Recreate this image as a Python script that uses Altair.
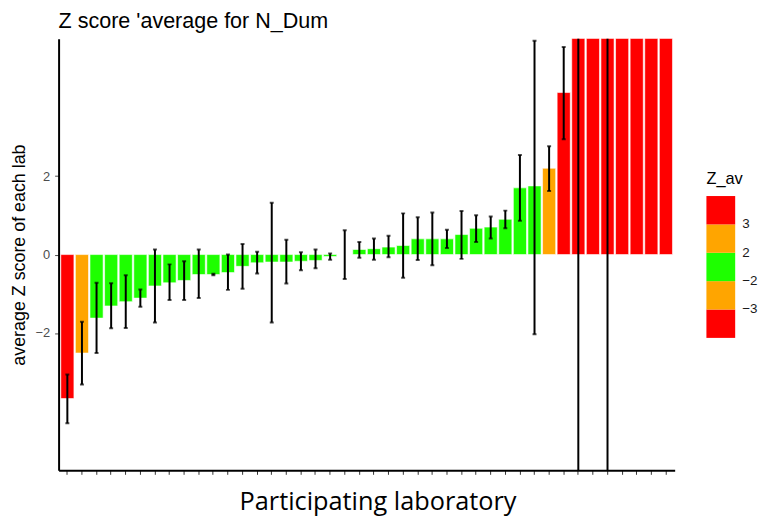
import altair as alt
import pandas as pd

# Laboratories in plotted (ascending) order
labs = ["L%02d" % i for i in range(1, 43)]

# Average Z score of each lab (last seven are off the top of the chart)
z_av = [-3.67, -2.51, -1.62, -1.31, -1.20, -1.11, -0.80, -0.72, -0.66, -0.51,
        -0.51, -0.46, -0.30, -0.21, -0.19, -0.19, -0.17, -0.15, -0.05, 0.00,
        0.13, 0.15, 0.19, 0.23, 0.40, 0.40, 0.40, 0.51, 0.67, 0.70,
        0.90, 1.70, 1.75, 2.20, 4.13, 6.5, 7.2, 8.0, 9.1, 10.4,
        12.0, 14.5]

# Error bar lower / upper ends
err_low = [-4.30, -3.31, -2.51, -1.88, -1.87, -1.33, -1.73, -1.16, -1.16, -1.11,
           -0.53, -0.90, -0.87, -0.48, -1.73, -0.74, -0.40, -0.35, -0.13, -0.62,
           -0.08, -0.13, -0.07, -0.59, -0.14, -0.27, 0.17, -0.11, 0.32, 0.41,
           0.67, 0.86, -2.03, 1.62, 2.94, -20.0, 6.6, -25.0, 8.5, 9.8,
           11.4, 13.9]
err_high = [-3.06, -1.71, -0.72, -0.73, -0.53, -0.89, 0.13, -0.25, -0.17, 0.13,
            -0.49, 0.00, 0.27, 0.07, 1.32, 0.38, 0.06, 0.13, 0.03, 0.62,
            0.32, 0.41, 0.48, 1.05, 0.95, 1.07, 0.63, 1.11, 1.00, 0.97,
            1.12, 2.54, 5.45, 2.76, 5.29, 30.0, 7.8, 35.0, 9.7, 11.0,
            12.6, 15.1]

thresholds = [-3, -2, 2, 3]
zone_colors = ["#ff0000", "#ffa500", "#1eff00", "#ffa500", "#ff0000"]

df = pd.DataFrame({"lab": labs, "Z_av": z_av, "low": err_low, "high": err_high})

# zone index 0..4 (number of thresholds reached) -> equal-sized legend steps
zone_expr = " + ".join("(datum.Z_av >= %g ? 1 : 0)" % t for t in thresholds)
zone_cuts = [i + 0.5 for i in range(len(thresholds))]
zone_labels = ["%g" % t for t in thresholds]
zone_label_expr = "[%s][round(datum.value - 0.5)]" % ", ".join(
    "'%s'" % s.replace("-", "\u2212") for s in zone_labels)

W, H = 621, 435
ytitle = "average Z score of each lab"

x_enc = alt.X(
    "lab:N", sort=labs,
    scale=alt.Scale(paddingInner=0.1, paddingOuter=0.15),
    axis=alt.Axis(labels=False, title="Participating laboratory",
                  titleFont="Open Sans", titleFontSize=25.5, titleFontWeight="normal",
                  titleColor="black", titlePadding=15, titleX=W / 2 + 11,
                  tickSize=4, tickColor="#333333", domainColor="black",
                  domainWidth=2),
)
yscale = alt.Scale(domain=[-5.5, 5.5], nice=False, zero=False)
yaxis = alt.Axis(values=[-2, 0, 2], title=ytitle, titleFont="Liberation Sans",
                 titleFontSize=18, titleFontWeight="normal", titleColor="black",
                 titlePadding=7, labelFont="Liberation Sans", labelFontSize=13,
                 labelColor="#4d4d4d", labelPadding=5, tickSize=4,
                 labelExpr="replace(datum.label, '-', '\u2212')",
                 tickColor="#4d4d4d", domainColor="black", domainWidth=2,
                 grid=False)

bars = alt.Chart(df).transform_calculate(zone=zone_expr).mark_bar(
    clip=True, stroke="white", strokeWidth=0.6).encode(
    x=x_enc,
    y=alt.Y("Z_av:Q", scale=yscale, axis=yaxis),
    color=alt.Color(
        "zone:Q",
        scale=alt.Scale(type="threshold", domain=zone_cuts, range=zone_colors),
        legend=alt.Legend(type="gradient", direction="vertical", orient="none",
                          legendX=653, legendY=133, gradientLength=143,
                          gradientThickness=29, gradientStrokeWidth=0,
                          title="Z_av", titleFont="Liberation Sans",
                          titleFontSize=16.5, titleFontWeight="normal",
                          titleColor="black", titlePadding=9,
                          labelFont="Liberation Sans", labelFontSize=13.5,
                          labelColor="#1a1a1a", labelOffset=7,
                          labelExpr=zone_label_expr, labelOverlap=False),
    ),
)

rules = alt.Chart(df).mark_rule(clip=True, color="black", strokeWidth=2).encode(
    x=x_enc,
    y=alt.Y("low:Q", scale=yscale, title=ytitle),
    y2="high:Q",
)
cap_lo = alt.Chart(df).mark_tick(clip=True, color="black", thickness=2, size=4).encode(
    x=x_enc, y=alt.Y("low:Q", scale=yscale, title=ytitle))
cap_hi = alt.Chart(df).mark_tick(clip=True, color="black", thickness=2, size=4).encode(
    x=x_enc, y=alt.Y("high:Q", scale=yscale, title=ytitle))

chart = alt.layer(bars, rules, cap_lo, cap_hi).properties(
    width=W, height=H,
    title=alt.TitleParams("Z score 'average for N_Dum", anchor="start",
                          frame="group", font="Liberation Sans", fontSize=21.7,
                          fontWeight="normal", color="black", offset=6),
    padding={"left": 2, "top": 1, "right": 0, "bottom": 0},
).configure_view(stroke=None)

chart.save("out.html", embed_options={"renderer": "svg", "actions": False})
